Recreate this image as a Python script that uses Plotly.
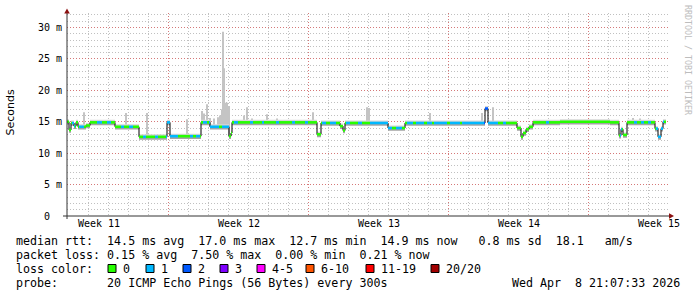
import plotly.graph_objects as go

# ---------------- data ----------------
# time axis: days since start of the 30-day window
med_day = [-0.05, 0.05, 0.15, 0.30, 0.40, 0.50, 0.90, 1.10, 2.35, 3.55, 4.95, 5.10,
           6.65, 7.10, 8.05, 8.15, 8.20, 12.45, 12.65, 13.60, 13.75, 13.85, 16.00,
           16.85, 20.85, 21.00, 22.45, 22.65, 22.75, 22.90, 23.05, 23.25, 24.60,
           27.10, 27.55, 27.65, 27.75, 27.95, 29.35, 29.50, 29.65, 29.75]
med_ms = [15.0, 13.7, 14.8, 14.3, 14.9, 14.2, 14.4, 14.9, 14.2, 12.6, 14.9, 12.7,
          14.9, 14.2, 12.7, 13.2, 14.9, 13.0, 14.8, 14.3, 13.6, 14.8, 14.0,
          14.8, 17.1, 14.8, 14.0, 12.6, 13.2, 13.8, 14.2, 14.9, 15.0,
          14.9, 12.8, 13.8, 12.9, 14.9, 13.9, 12.6, 13.9, 15.0]
end_day = 29.90

loss_day = [-0.05, 0.20, 0.35, 0.55, 0.80, 1.45, 1.70, 1.95, 2.15, 2.65, 2.80, 3.05,
            3.25, 3.75, 3.90, 4.35, 4.50, 4.90, 5.50, 6.10, 6.25, 6.40, 6.60, 6.75,
            6.95, 7.05, 7.55, 7.70, 8.05, 8.30, 8.50, 9.10, 9.25, 9.70, 9.80, 10.40,
            10.55, 11.20, 11.35, 11.85, 12.00, 12.70, 12.90, 13.10, 13.40, 13.90,
            14.10, 14.50, 14.70, 15.10, 16.20, 16.40, 16.70, 16.95, 17.25, 17.40,
            17.80, 17.95, 18.20, 18.30, 18.95, 19.10, 19.60, 19.70, 20.80, 21.00,
            21.50, 21.75, 21.90, 23.90, 24.05, 27.60, 27.70, 28.30, 28.45, 28.65,
            28.80, 29.00, 29.15, 29.40, 29.80]
loss_cnt = [0, 1, 0, 1, 0, 1, 0, 1, 0, 1, 0, 1,
            0, 1, 0, 1, 0, 1, 0, 1, 0, 1, 0, 1,
            0, 1, 0, 1, 0, 1, 0, 1, 0, 1, 0, 1,
            0, 1, 0, 1, 0, 1, 0, 1, 0, 1,
            0, 1, 0, 1, 0, 1, 0, 1, 0, 1,
            0, 1, 0, 1, 0, 1, 0, 1, 2, 1,
            0, 1, 0, 1, 0, 1, 0, 1, 0, 1,
            0, 1, 0, 1, 0]

spike_day = [0.80, 2.90, 3.95, 5.95, 6.70, 6.80, 6.95, 7.10, 7.30, 7.50, 7.60, 7.70,
             7.75, 7.80, 7.85, 7.95, 8.05, 8.80, 8.95, 9.20, 9.95, 10.45, 12.25,
             14.95, 15.05, 18.10, 20.70, 21.25, 28.25, 28.60]
spike_top = [16.5, 16.4, 16.4, 15.4, 16.7, 16.3, 17.8, 15.6, 15.5, 15.7, 16.0, 17.0,
             29.3, 23.5, 18.0, 18.0, 17.5, 16.0, 17.3, 15.5, 16.2, 15.5, 16.5,
             17.3, 17.2, 16.4, 16.4, 17.3, 15.6, 15.5]

week_grid_days = [5, 12, 19, 26]
week_label_days = [1.55, 8.55, 15.55, 22.55, 29.55]
week_labels = ["Week 11", "Week 12", "Week 13", "Week 14", "Week 15"]
y_tickvals = [0, 5, 10, 15, 20, 25, 30]
y_ticktext = ["0\u00a0\u00a0", "5 m", "10 m", "15 m", "20 m", "25 m", "30 m"]

loss_keys = [0, 1, 2, 3, 4, 6, 11, 20]
loss_names = ["0", "1", "2", "3", "4-5", "6-10", "11-19", "20/20"]
loss_hex = ["#26ff00", "#00b8ff", "#0059ff", "#7e00ff", "#ff00ff", "#ff5500", "#ff0000", "#a10000"]

stats_rtt = "median rtt:  14.5 ms avg  17.0 ms max  12.7 ms min  14.9 ms now   0.8 ms sd  18.1   am/s"
stats_loss = "packet loss: 0.15 % avg  7.50 % max  0.00 % min  0.21 % now"
probe_txt = "probe:       20 ICMP Echo Pings (56 Bytes) every 300s"
date_txt = "Wed Apr  8 21:07:33 2026"

# ---------------- helpers ----------------
W, H = 697, 297
ML, MR, MT, MB = 67, 28, 13, 81
PW, PH = W - ML - MR, H - MT - MB


def px(x):
    return (x - ML) / PW


def py(y):
    return (H - MB - y) / PH


def nb(s):
    return s.replace(" ", "\u00a0")


def med_at(d):
    v = med_ms[0]
    for t, m in zip(med_day, med_ms):
        if t <= d + 1e-9:
            v = m
    return v


def loss_at(d):
    v = loss_cnt[0]
    for t, m in zip(loss_day, loss_cnt):
        if t <= d + 1e-9:
            v = m
    return v


MONO = "DejaVu Sans Mono"

fig = go.Figure()

step_x = med_day + [end_day]
step_y = med_ms + [med_ms[-1]]

# smoke band (dark below median, light haze above)
fig.add_trace(go.Scatter(x=step_x, y=[v - 0.45 for v in step_y], mode="lines",
                         line=dict(width=0, shape="hv"), hoverinfo="skip", showlegend=False))
fig.add_trace(go.Scatter(x=step_x, y=step_y, mode="lines", fill="tonexty",
                         fillcolor="#a4a4a4", line=dict(width=0, shape="hv"),
                         hoverinfo="skip", showlegend=False))
fig.add_trace(go.Scatter(x=step_x, y=[v + 0.4 for v in step_y], mode="lines", fill="tonexty",
                         fillcolor="#d6d6d6", line=dict(width=0, shape="hv"),
                         hoverinfo="skip", showlegend=False))

# smoke spikes
bases = [med_at(d) for d in spike_day]
fig.add_trace(go.Bar(x=spike_day, y=[t - b for t, b in zip(spike_top, bases)], base=bases,
                     width=0.09, marker=dict(color="#c4c4c4", line=dict(width=0)),
                     hoverinfo="skip", showlegend=False))

# black median step line
fig.add_trace(go.Scatter(x=step_x, y=step_y, mode="lines",
                         line=dict(color="#000000", width=1, shape="hv"),
                         hoverinfo="skip", showlegend=False))

# loss-coloured median segments
bps = sorted(set(med_day + loss_day + [end_day]))
segs = {}
for a, b in zip(bps[:-1], bps[1:]):
    l = loss_at(a)
    v = med_at(a)
    xs, ys = segs.setdefault(l, ([], []))
    xs += [a, b, None]
    ys += [v, v, None]
for l, (xs, ys) in segs.items():
    col = loss_hex[loss_keys.index(l)]
    fig.add_trace(go.Scatter(x=xs, y=ys, mode="lines", line=dict(color=col, width=2.6),
                             hoverinfo="skip", showlegend=False))

# dummy trace for label axis
fig.add_trace(go.Scatter(x=[week_label_days[0]], y=[0], xaxis="x2", mode="markers",
                         marker=dict(opacity=0), hoverinfo="skip", showlegend=False))

grid_minor = "rgba(140,140,140,0.55)"
grid_major = "rgba(230,60,60,0.55)"
dots = "1px,2px"

fig.update_layout(
    width=W, height=H, margin=dict(l=ML, r=MR, t=MT, b=MB),
    paper_bgcolor="white", plot_bgcolor="white", barmode="overlay",
    showlegend=False,
    xaxis=dict(range=[-0.05, 30.05], tickmode="array", tickvals=week_grid_days,
               showticklabels=False, ticks="", showgrid=True, gridcolor=grid_major,
               griddash=dots, gridwidth=1, zeroline=False, showline=False,
               minor=dict(tickmode="linear", tick0=0, dtick=1, showgrid=True,
                          gridcolor=grid_minor, griddash=dots, gridwidth=1)),
    xaxis2=dict(range=[-0.05, 30.05], overlaying="x", side="bottom", tickmode="array",
                tickvals=week_label_days, ticktext=week_labels, showgrid=False,
                zeroline=False, showline=False, ticks="",
                tickfont=dict(family=MONO, size=10, color="#000000")),
    yaxis=dict(range=[0, 32.3], tickmode="array", tickvals=y_tickvals, ticktext=y_ticktext,
               showgrid=True, gridcolor=grid_major, griddash=dots, gridwidth=1,
               zeroline=False, showline=False, ticks="", ticklabelstandoff=4,
               tickfont=dict(family=MONO, size=10, color="#000000"),
               minor=dict(tickmode="linear", tick0=0, dtick=1, showgrid=True,
                          gridcolor=grid_minor, griddash=dots, gridwidth=1)),
)

shapes = []
axis_col = "#333333"
arrow_col = "#8b1010"
shapes.append(dict(type="line", xref="paper", yref="paper", x0=px(67), x1=px(67),
                   y0=py(219), y1=py(12), line=dict(color=axis_col, width=1)))
shapes.append(dict(type="line", xref="paper", yref="paper", x0=px(63), x1=px(670),
                   y0=py(216), y1=py(216), line=dict(color=axis_col, width=1)))
shapes.append(dict(type="path", xref="paper", yref="paper",
                   path=f"M {px(67)} {py(8.5)} L {px(64.2)} {py(13.5)} L {px(69.8)} {py(13.5)} Z",
                   fillcolor=arrow_col, line=dict(width=0)))
shapes.append(dict(type="path", xref="paper", yref="paper",
                   path=f"M {px(674)} {py(216)} L {px(669)} {py(213.2)} L {px(669)} {py(218.8)} Z",
                   fillcolor=arrow_col, line=dict(width=0)))

# legend colour boxes
box_x = [108, 146, 183, 220, 257, 306, 366, 431]
lab_x = [122, 160, 197, 234, 271, 320, 380, 445]
for bx, col in zip(box_x, loss_hex):
    shapes.append(dict(type="rect", xref="paper", yref="paper", x0=px(bx), x1=px(bx + 8),
                       y0=py(272.5), y1=py(264.5), fillcolor=col,
                       line=dict(color="#000000", width=1)))
fig.update_layout(shapes=shapes)

ann = []


def add_text(x, y, s, size=11.65, anchor="left", family=MONO, color="#000000", angle=0):
    ann.append(dict(xref="paper", yref="paper", x=px(x), y=py(y), text=nb(s),
                    showarrow=False, xanchor=anchor, yanchor="middle", borderpad=0,
                    textangle=angle, font=dict(family=family, size=size, color=color)))


add_text(15, 241, stats_rtt)
add_text(15, 255, stats_loss)
add_text(15, 269, "loss color:")
for lx, name in zip(lab_x, loss_names):
    add_text(lx, 269, name)
add_text(15, 283, probe_txt)
add_text(681, 283, date_txt, anchor="right")
ann.append(dict(xref="paper", yref="paper", x=px(10.5), y=py(113), text="Seconds",
                showarrow=False, textangle=-90, xanchor="center", yanchor="middle",
                font=dict(family="DejaVu Sans", size=11, color="#000000")))
ann.append(dict(xref="paper", yref="paper", x=px(688), y=py(60), text=nb("RRDTOOL / TOBI OETIKER"),
                showarrow=False, textangle=90, xanchor="center", yanchor="middle",
                font=dict(family=MONO, size=8.3, color="#bdbdbd")))
fig.update_layout(annotations=ann)

fig.write_html("out.html")
